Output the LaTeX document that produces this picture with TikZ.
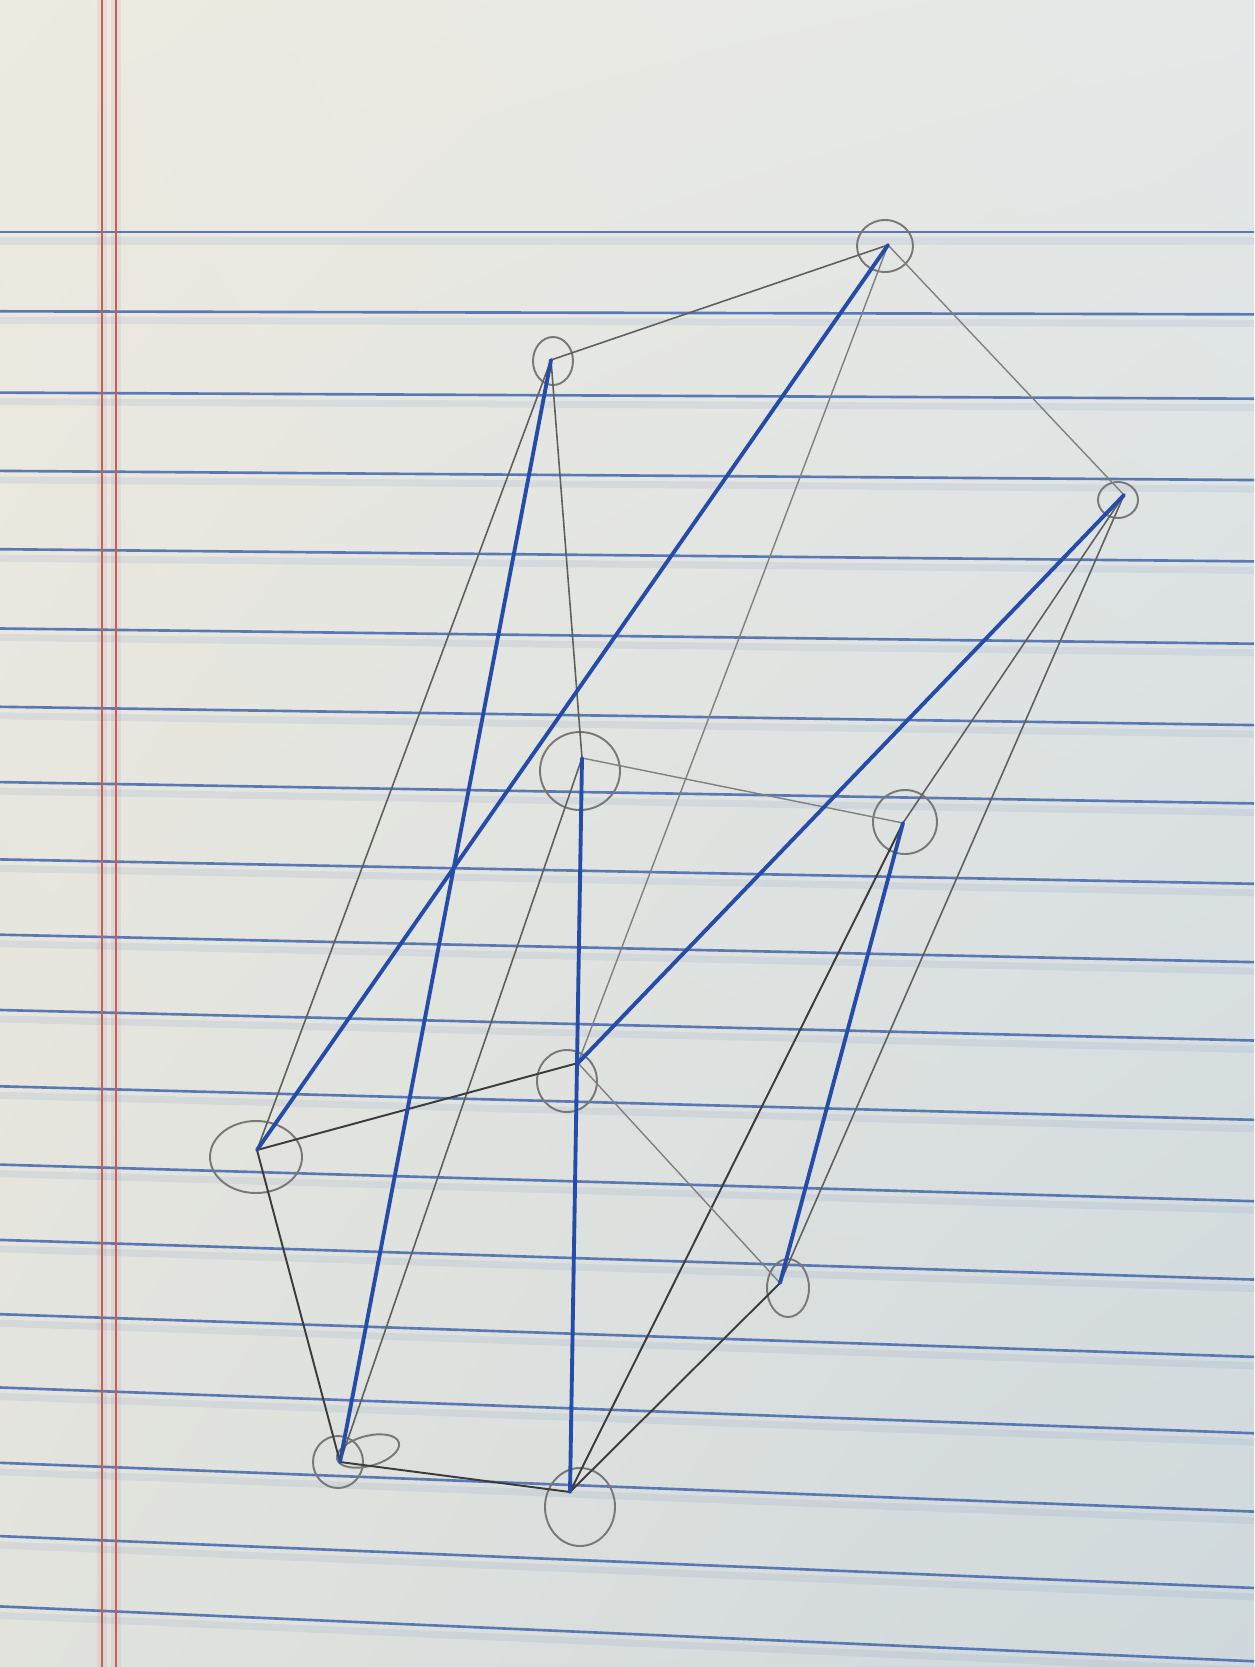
\documentclass[tikz,border=0pt]{standalone}
\usepackage{xcolor}
\usepackage{tikz}
\usetikzlibrary{shapes.geometric,shadings}
\definecolor{paperUL}{RGB}{237,234,224}
\definecolor{paperUR}{RGB}{228,232,231}
\definecolor{paperLL}{RGB}{226,227,221}
\definecolor{paperLR}{RGB}{207,216,220}
\definecolor{ruleBlue}{RGB}{90,120,180}
\definecolor{marginRed}{RGB}{190,96,96}
\definecolor{pencilGray}{RGB}{95,95,95}
\definecolor{pencilDark}{RGB}{60,60,60}
\definecolor{pencilLight}{RGB}{128,128,128}
\definecolor{ringGray}{RGB}{120,120,120}
\definecolor{penBlue}{RGB}{36,76,168}
\begin{document}
\begin{tikzpicture}[x=0.1mm,y=-0.1mm,
  ruleline/.style={draw=ruleBlue,line width=0.75pt},
  ruleshade/.style={draw=ruleBlue,line width=2pt,opacity=0.10},
  marginline/.style={draw=marginRed,line width=0.4pt},
  marginhalo/.style={draw=marginRed,line width=3pt,opacity=0.10},
  pencil/.style={draw=pencilGray,line width=0.45pt,line cap=round},
  pencildark/.style={pencil,draw=pencilDark,line width=0.55pt},
  pencillight/.style={pencil,draw=pencilLight,line width=0.4pt},
  inkblue/.style={draw=penBlue,line width=1.1pt,line cap=round},
  ring/.style={ellipse,draw=ringGray,line width=0.55pt,inner sep=0pt}]

% ===== paper =====
\useasboundingbox (0,0) rectangle (1254,1667);
\clip (0,0) rectangle (1254,1667);
\shade[upper left=paperUL,upper right=paperUR,lower left=paperLL,lower right=paperLR]
  (0,0) rectangle (1254,1667);
% ruled lines (y read at x=700, slope grows down the page)
\foreach \m [count=\k from 0] in {232,313,396,476,556,637,717,794,873,950,1027,1105,1185,1262,1338,1413,1490,1565,1637} {
  \draw[ruleshade] (0,{\m-1.7*\k+9}) -- (1254,{\m+1.35*\k+9});
  \draw[ruleline] (0,{\m-1.7*\k}) -- (1254,{\m+1.35*\k});
}
\foreach \x in {102,116} {
  \draw[marginhalo] (\x,0) -- (\x,1667);
  \draw[marginline] (\x,0) -- (\x,1667);
}

% ===== vertices =====
\coordinate (A) at (888,245);
\coordinate (B) at (551,360);
\coordinate (C) at (1124,495);
\coordinate (D) at (582,758);
\coordinate (E) at (903,823);
\coordinate (F) at (578,1063);
\coordinate (G) at (257,1150);
\coordinate (H) at (780,1283);
\coordinate (I) at (340,1462);
\coordinate (J) at (570,1492);

% pencil circles round the vertices
\node[ring,minimum width=5.6mm,minimum height=5.2mm] (rA) at (885,246) {};
\node[ring,minimum width=4.0mm,minimum height=4.8mm] (rB) at (553,361) {};
\node[ring,minimum width=4.0mm,minimum height=3.6mm] (rC) at (1118,500) {};
\node[ring,minimum width=8.0mm,minimum height=7.8mm] (rD) at (580,771) {};
\node[ring,minimum width=6.4mm,minimum height=6.4mm] (rE) at (905,822) {};
\node[ring,minimum width=6.0mm,minimum height=6.2mm] (rF) at (567,1081) {};
\node[ring,minimum width=9.2mm,minimum height=7.2mm] (rG) at (256,1157) {};
\node[ring,minimum width=4.2mm,minimum height=5.8mm] (rH) at (788,1288) {};
\node[ring,minimum width=5.0mm,minimum height=5.2mm] (rI) at (338,1462) {};
\node[ring,minimum width=6.4mm,minimum height=3.0mm,rotate=15] (rIloop) at (368,1451) {};
\node[ring,minimum width=7.0mm,minimum height=7.8mm] (rJ) at (580,1507) {};

% ===== pencil edges =====
\foreach \u/\v in {A/B,B/G,B/D,C/E,C/H,D/I}
  \draw[pencil] (\u) -- (\v);
\foreach \u/\v in {E/J,F/G,G/I,H/J,I/J}
  \draw[pencildark] (\u) -- (\v);
\foreach \u/\v in {A/C,A/F,D/E,F/H}
  \draw[pencillight] (\u) -- (\v);

% ===== blue edges =====
\foreach \u/\v in {A/G,B/I,C/F,D/J,E/H}
  \draw[inkblue] (\u) -- (\v);
\end{tikzpicture}
\end{document}
